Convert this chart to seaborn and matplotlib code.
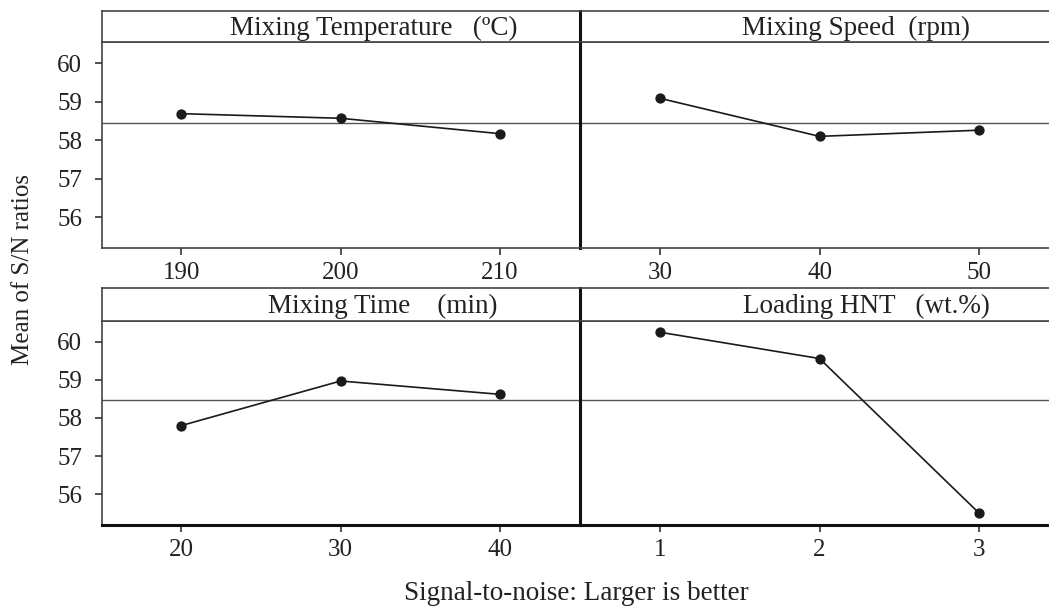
import numpy as np
import pandas as pd
import matplotlib
matplotlib.use('Agg')
import matplotlib.pyplot as plt
import seaborn as sns

# main effects for S/N ratios (larger is better)
titles = ['Mixing Temperature   (ºC)', 'Mixing Speed  (rpm)',
          'Mixing Time    (min)', 'Loading HNT   (wt.%)']
temp_levels = ['190', '200', '210']
temp_sn = [58.69, 58.57, 58.17]
speed_levels = ['30', '40', '50']
speed_sn = [59.09, 58.10, 58.26]
time_levels = ['20', '30', '40']
time_sn = [57.80, 58.97, 58.62]
hnt_levels = ['1', '2', '3']
hnt_sn = [60.25, 59.56, 55.50]
grand_mean = 58.46
yticks = [56, 57, 58, 59, 60]

sns.set_style('ticks')
plt.rcParams['font.family'] = ['Liberation Serif', 'DejaVu Serif']

W, H = 1049, 610
fig = plt.figure(figsize=(W / 100, H / 100), dpi=100)

def fx(px):
    return px / W

def fy(py):
    return 1 - py / H

# panel geometry in pixels: (left, right), (strip_top, plot_top, plot_bottom)
cols = [(101.7, 579.5), (580, 1059)]
rows = [(10.7, 42.3, 248.3), (288, 321, 525)]
title_pos = [0.570, 0.576, 0.588, 0.597]

panels = [(temp_levels, temp_sn), (speed_levels, speed_sn),
          (time_levels, time_sn), (hnt_levels, hnt_sn)]

edge = '#444444'
fs_title = 19.5
fs_tick = 18

for i, (levels, sn) in enumerate(panels):
    r, c = divmod(i, 2)
    x0, x1 = cols[c]
    st, pt, pb = rows[r]
    ax = fig.add_axes([fx(x0), fy(pb), fx(x1 - x0), (pb - pt) / H])
    sax = fig.add_axes([fx(x0), fy(pt), fx(x1 - x0), (pt - st) / H])

    df = pd.DataFrame({'level': levels, 'sn': sn})
    sns.pointplot(data=df, x='level', y='sn', color='#1a1a1a', ax=ax,
                  markersize=6.5, linewidth=1.2)
    ax.axhline(grand_mean, color='#555555', lw=1, zorder=0)
    ax.set_xlim(-0.5, 2.5)
    ax.set_ylim(55.19, 60.545)
    ax.set_xlabel('')
    ax.set_ylabel('')
    ax.set_yticks(yticks)
    ax.tick_params(axis='both', direction='out', length=5, width=1.2,
                   color='#333333', labelsize=fs_tick, labelcolor='#222222')
    ax.tick_params(axis='x', pad=5)
    ax.tick_params(axis='y', pad=9)
    if c == 1:
        ax.tick_params(axis='y', left=False, labelleft=False)
    for s in ax.spines.values():
        s.set_visible(True)
        s.set_color(edge)
        s.set_linewidth(1.2)
    if c == 1:
        ax.spines['left'].set_color('#111111')
        ax.spines['left'].set_linewidth(2.2)
    if r == 1:
        ax.spines['bottom'].set_color('#111111')
        ax.spines['bottom'].set_linewidth(2.2)

    sax.set_xticks([])
    sax.set_yticks([])
    for s in sax.spines.values():
        s.set_visible(True)
        s.set_color(edge)
        s.set_linewidth(1.2)
    if c == 1:
        sax.spines['left'].set_color('#111111')
        sax.spines['left'].set_linewidth(2.2)
    sax.text(title_pos[i], 0.45, titles[i], ha='center', va='center',
             fontsize=fs_title, color='#222222', transform=sax.transAxes)

fig.text(fx(576.5), fy(593), 'Signal-to-noise: Larger is better',
         ha='center', va='center', fontsize=fs_title, color='#222222')
fig.text(fx(23), fy(269.5), 'Mean of S/N ratios', rotation=90,
         ha='center', va='center', fontsize=fs_tick, color='#222222')

fig.savefig('out.png', dpi=100)
